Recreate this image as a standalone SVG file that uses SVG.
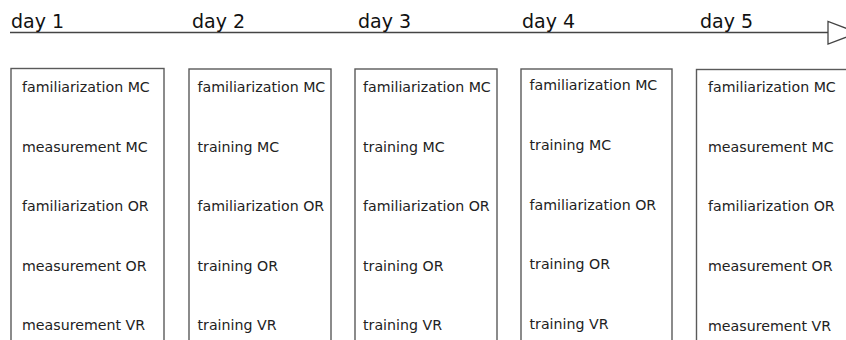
<svg xmlns="http://www.w3.org/2000/svg" width="846" height="340" viewBox="0 0 846 340">
  <style>
    .day { font-family: "DejaVu Sans", sans-serif; font-size: 19px; fill: #111; }
    .box { fill: #fff; stroke: #5a5a5a; stroke-width: 1.4; }
    .item { font-family: "DejaVu Sans", sans-serif; font-size: 14.2px; fill: #222; }
    .axis { stroke: #444; stroke-width: 1.3; fill: none; }
    .head { fill: #fff; stroke: #444; stroke-width: 1.3; }
  </style>

  <!-- timeline axis -->
  <g id="connectors">
    <line class="axis" x1="10" y1="32.5" x2="828" y2="32.5"/>
    <polygon class="head" points="828,21.5 828,44 858,32.75"/>
  </g>

  <!-- day headings -->
  <g id="days">
    <text class="day" x="11" y="27.5">day 1</text>
    <text class="day" x="192" y="27.5">day 2</text>
    <text class="day" x="358" y="27.5">day 3</text>
    <text class="day" x="522" y="27.5">day 4</text>
    <text class="day" x="700" y="27.5">day 5</text>
  </g>

  <g id="day1">
    <rect class="box" x="11" y="68.5" width="153" height="290"/>
    <text class="item" x="22" y="92">familiarization MC</text>
    <text class="item" x="22" y="151.5">measurement MC</text>
    <text class="item" x="22" y="211">familiarization OR</text>
    <text class="item" x="22" y="270.5">measurement OR</text>
    <text class="item" x="22" y="330">measurement VR</text>
  </g>

  <g id="day2">
    <rect class="box" x="189" y="69" width="142" height="290"/>
    <text class="item" x="197.5" y="92">familiarization MC</text>
    <text class="item" x="197.5" y="151.5">training MC</text>
    <text class="item" x="197.5" y="211">familiarization OR</text>
    <text class="item" x="197.5" y="270.5">training OR</text>
    <text class="item" x="197.5" y="330">training VR</text>
  </g>

  <g id="day3">
    <rect class="box" x="355" y="69" width="142" height="290"/>
    <text class="item" x="363" y="92">familiarization MC</text>
    <text class="item" x="363" y="151.5">training MC</text>
    <text class="item" x="363" y="211">familiarization OR</text>
    <text class="item" x="363" y="270.5">training OR</text>
    <text class="item" x="363" y="330">training VR</text>
  </g>

  <g id="day4">
    <rect class="box" x="521" y="69" width="151" height="290"/>
    <text class="item" x="529.5" y="90">familiarization MC</text>
    <text class="item" x="529.5" y="150">training MC</text>
    <text class="item" x="529.5" y="209.5">familiarization OR</text>
    <text class="item" x="529.5" y="269">training OR</text>
    <text class="item" x="529.5" y="328.5">training VR</text>
  </g>

  <g id="day5">
    <rect class="box" x="696.5" y="69.5" width="160" height="290"/>
    <text class="item" x="708" y="92">familiarization MC</text>
    <text class="item" x="708" y="151.5">measurement MC</text>
    <text class="item" x="708" y="211">familiarization OR</text>
    <text class="item" x="708" y="271">measurement OR</text>
    <text class="item" x="708" y="330.5">measurement VR</text>
  </g>
</svg>
